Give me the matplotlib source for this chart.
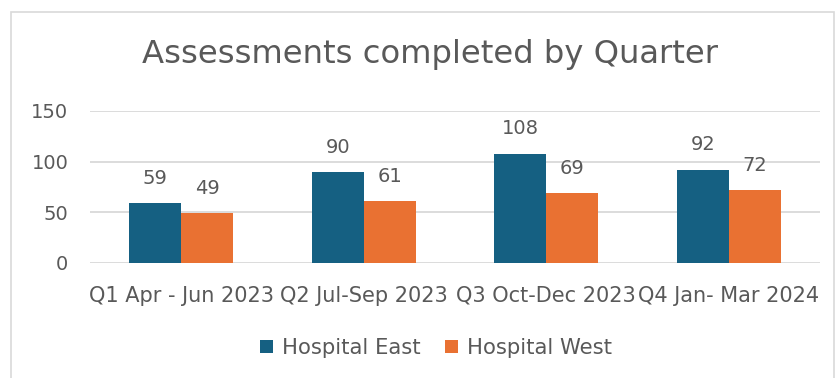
import matplotlib
matplotlib.use("Agg")
import matplotlib.pyplot as plt
import numpy as np
from matplotlib.patches import Rectangle

categories = ["Q1 Apr - Jun 2023", "Q2 Jul-Sep 2023", "Q3 Oct-Dec 2023", "Q4 Jan- Mar 2024"]
hospital_east = [59, 90, 108, 92]
hospital_west = [49, 61, 69, 72]
series_names = ["Hospital East", "Hospital West"]
yticks = [0, 50, 100, 150]

east_color = "#156082"
west_color = "#E97132"
text_color = "#595959"
grid_color = "#D9D9D9"

plt.rcParams["font.family"] = ["DejaVu Sans"]

fig = plt.figure(figsize=(8.35, 3.78), dpi=100)
fig.patch.set_facecolor("white")

# chart frame
fig.add_artist(Rectangle((11 / 835, -0.05), 823 / 835, 1.05 - 12 / 378,
                         transform=fig.transFigure, fill=False,
                         edgecolor="#D9D9D9", linewidth=1.2))

ax = fig.add_axes([90 / 835, 1 - 263 / 378, 730 / 835, 152 / 378])
x = np.arange(len(categories))
width = 1 / 3.5
b1 = ax.bar(x - width / 2, hospital_east, width, color=east_color, label=series_names[0], zorder=3)
b2 = ax.bar(x + width / 2, hospital_west, width, color=west_color, label=series_names[1], zorder=3)

for bars, vals in ((b1, hospital_east), (b2, hospital_west)):
    for rect, v in zip(bars, vals):
        ax.annotate(str(v), (rect.get_x() + rect.get_width() / 2, v),
                    xytext=(0, 11), textcoords="offset points",
                    ha="center", va="bottom", fontsize=14, color=text_color)

ax.set_xlim(-0.5, len(categories) - 0.5)
ax.set_ylim(0, 150)
ax.set_yticks(yticks)
ax.set_yticklabels([str(t) for t in yticks])
ax.set_xticks(x)
ax.set_xticklabels(categories)
ax.tick_params(axis="both", length=0, labelsize=15, colors=text_color)
ax.tick_params(axis="y", labelsize=14, pad=15.5)
ax.tick_params(axis="x", pad=16.5)
ax.grid(axis="y", color=grid_color, linewidth=1.3, zorder=0)
for s in ax.spines.values():
    s.set_visible(False)

fig.text(430 / 835, 1 - 55 / 378, "Assessments completed by Quarter",
         ha="center", va="center", fontsize=23.2, color=text_color)

fig.legend(handles=[b1, b2], labels=series_names, loc="center",
           bbox_to_anchor=(436 / 835, 1 - 348 / 378), ncol=2, frameon=False,
           fontsize=15.2, labelcolor=text_color, handlelength=0.6, handleheight=0.6,
           handletextpad=0.4, columnspacing=1.2)

fig.savefig("out.png", dpi=100, facecolor="white")
